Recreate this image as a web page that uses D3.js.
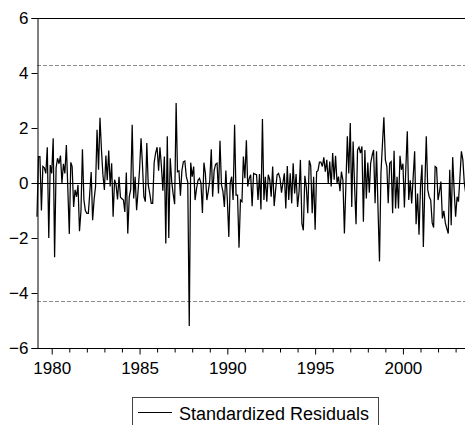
<!DOCTYPE html>
<html>
<head>
<meta charset="utf-8">
<script src="https://cdn.jsdelivr.net/npm/d3@7/dist/d3.min.js"></script>
<style>
  html, body { margin: 0; padding: 0; background: #fff; }
  svg { display: block; }
  text { font-family: "Liberation Sans", Arial, sans-serif; fill: #000; }
</style>
</head>
<body>
<div id="chart"></div>
<script>
// ---- data ----
const startMonth = "1979-03";
const residuals = [
  -1.23, 0.96, 0.96, -1.0, 0.6, 0.55, 0.35, 1.3, -2.0, 0.65,
  0.35, 1.63, -2.7, 0.55, 0.9, 0.7, 1.0, 0.0, 0.7, 0.35,
  1.38, -0.2, -1.85, 0.75, 0.6, -0.87, -0.25, -0.5, -0.07, -1.75,
  -1.0, 1.23, -0.62, -1.0, -1.1, -1.1, -0.4, 0.4, -1.35, -0.6,
  -0.13, 1.94, 0.48, 2.37, 1.2, 0.3, -0.25, 1.0, 0.1, 1.18,
  -0.13, 0.72, -1.23, 0.12, -0.07, -0.6, 0.23, -0.52, -0.57, -0.62,
  -1.05, 0.38, -1.84, -0.5, -0.23, 2.12, -0.56, 0.23, -0.99, -0.3,
  0.48, 1.63, 0.72, -0.5, -0.68, 1.45, -0.07, -0.38, -0.74, -0.74,
  0.74, 1.09, 1.3, 0.45, 1.3, 0.6, -0.28, 0.96, -2.2, 1.7,
  -2.0, 0.9, 0.05, -0.4, -0.77, 2.91, 0.41, 0.44, -0.46, 0.45,
  0.77, 0.8, 0.23, 0.03, -5.2, 0.74, 0.23, 0.6, -0.62, -0.2,
  0.1, 0.17, 0.0, -1.09, 0.74, 0.35, -0.62, -0.3, 0.1, 1.23,
  -0.5, 0.45, 0.68, 0.72, -0.38, 1.54, -0.07, -0.3, -0.87, 0.45,
  -0.62, -1.96, 0.0, 0.23, -0.62, 2.12, -0.44, -0.44, -2.35, -0.62,
  -0.68, 0.96, 0.17, 1.55, -0.13, 0.17, 0.3, -0.84, 0.35, 0.32,
  0.3, -0.62, 0.33, -0.96, 2.33, -0.62, 0.23, -0.68, 0.3, 0.12,
  -0.5, 0.6, -0.84, -0.25, 0.3, 0.35, 0.17, -0.35, 0.0, 0.35,
  -0.93, 0.62, -0.62, 0.35, -0.74, 0.72, -0.38, 0.33, -0.87, -0.32,
  0.84, -1.48, -1.72, 0.26, -0.13, -1.1, 0.82, 0.63, -1.1, 0.23,
  -1.7, 0.41, 0.45, 0.76, 0.76, 0.6, 0.93, 0.41, 0.84, 0.0,
  0.78, -0.13, 1.09, 0.12, 0.99, 0.0, 0.23, -0.3, 0.41, 0.1,
  -1.84, -0.13, 1.7, 0.35, 2.18, -0.87, 1.51, -0.13, -1.5, 1.2,
  1.3, 1.09, 1.33, -1.41, 1.2, -0.56, 0.74, -0.35, 0.72, 1.0,
  1.2, -0.74, 1.15, -0.93, -2.85, 0.35, 1.4, 2.39, 0.84, 0.6,
  -0.74, 0.72, 0.78, -1.1, 1.17, -0.93, 0.23, -0.93, 0.99, 0.48,
  0.7, -0.89, 0.5, 1.88, -0.62, 0.1, -0.74, 0.2, 1.15, -1.5,
  -0.38, -1.88, -0.13, 0.66, -2.33, -0.13, 1.7, -0.25, -0.5, -0.62,
  -1.45, -1.62, 0.6, 0.56, -0.62, -0.3, 0.05, -1.29, -1.01, -1.45,
  -1.65, -1.84, 0.48, -1.54, 0.94, -0.25, -1.23, -0.5, -0.68, 0.2,
  1.15, 0.84, 0.0, -0.4
];
const yTicks = [-6, -4, -2, 0, 2, 4, 6];
const xLabelYears = [1980, 1985, 1990, 1995, 2000];
const bandLevels = [4.3, -4.3];
const legendLabel = "Standardized Residuals";

// ---- build ----
(function () {
  const parseMonth = d3.timeParse("%Y-%m");
  const start = parseMonth(startMonth);
  const dates = residuals.map((_, i) => d3.timeMonth.offset(start, i));
  const series = dates.map((d, i) => ({ date: d, value: residuals[i] }));

  const W = 465, H = 425;
  const mLeft = 37, mTop = 18, mBottom = 348;
  const rightEdge = 465.8;

  const svg = d3.select("#chart").append("svg")
    .attr("width", W).attr("height", H);

  const x = d3.scaleTime()
    .domain([dates[0], dates[dates.length - 1]])
    .range([mLeft, rightEdge]);
  const y = d3.scaleLinear().domain([-6, 6]).range([mBottom, mTop]);

  // frame top line
  svg.append("line")
    .attr("x1", mLeft).attr("x2", W + 2)
    .attr("y1", mTop + 0.5).attr("y2", mTop + 0.5)
    .attr("stroke", "#000").attr("stroke-width", 1);

  // dashed bands
  svg.append("g").selectAll("line").data(bandLevels).join("line")
    .attr("x1", mLeft).attr("x2", W + 2)
    .attr("y1", d => Math.round(y(d)) + 0.5)
    .attr("y2", d => Math.round(y(d)) + 0.5)
    .attr("stroke", "#8c8c8c").attr("stroke-width", 1)
    .attr("stroke-dasharray", "4,2");

  // zero line
  svg.append("line")
    .attr("x1", mLeft).attr("x2", W + 2)
    .attr("y1", Math.round(y(0)) + 0.5).attr("y2", Math.round(y(0)) + 0.5)
    .attr("stroke", "#000").attr("stroke-width", 1);

  // series line
  const line = d3.line().x(d => x(d.date)).y(d => y(d.value));
  svg.append("path").datum(series)
    .attr("d", line)
    .attr("fill", "none")
    .attr("stroke", "#000")
    .attr("stroke-width", 1.25)
    .attr("stroke-linejoin", "miter");

  // y axis
  const yAxis = d3.axisLeft(y).tickValues(yTicks).tickSize(6).tickPadding(3)
    .tickFormat(d3.format("d"));
  const gy = svg.append("g").attr("transform", `translate(${mLeft + 0.5},0)`).call(yAxis);
  gy.select(".domain").attr("stroke", "#000");
  gy.selectAll(".tick line").attr("stroke", "#000");
  gy.selectAll("text").style("font-size", "17px").attr("font-family", null);

  // x axis: yearly ticks, labels every 5 years
  const years = d3.timeYear.range(d3.timeYear.ceil(dates[0]), d3.timeYear.offset(dates[dates.length - 1], 1))
    .filter(d => x(d) <= W + 1);
  const isMajor = d => xLabelYears.includes(d.getFullYear());
  const xAxis = d3.axisBottom(x).tickValues(years).tickSize(4).tickPadding(9)
    .tickFormat(d => isMajor(d) ? d.getFullYear() : "");
  const gx = svg.append("g").attr("transform", `translate(0,${mBottom + 0.5})`).call(xAxis);
  gx.select(".domain").attr("d", `M${mLeft},0H${W + 2}`).attr("stroke", "#000");
  gx.selectAll(".tick line").attr("stroke", "#000")
    .attr("y2", d => isMajor(d) ? 6 : 4);
  gx.selectAll("text").style("font-size", "17px").attr("font-family", null);

  // legend
  const lg = svg.append("g");
  lg.append("rect")
    .attr("x", 132.5).attr("y", 397.5).attr("width", 246).attr("height", 40)
    .attr("fill", "#fff").attr("stroke", "#444").attr("stroke-width", 1);
  lg.append("line")
    .attr("x1", 138).attr("x2", 172).attr("y1", 412.5).attr("y2", 412.5)
    .attr("stroke", "#000").attr("stroke-width", 1.2);
  lg.append("text")
    .attr("x", 179).attr("y", 420)
    .style("font-size", "18px")
    .text(legendLabel);
})();
</script>
</body>
</html>
